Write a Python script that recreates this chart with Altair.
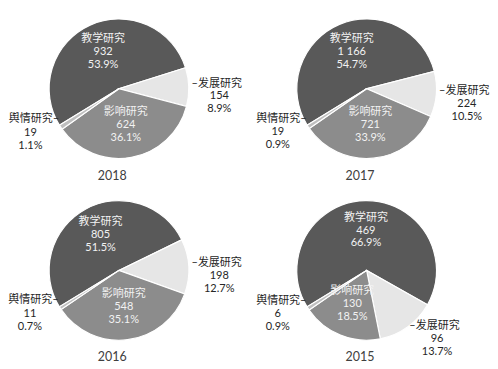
import json
import altair as alt
import pandas as pd

years = ["2018", "2017", "2016", "2015"]
categories = ["教学研究", "发展研究", "影响研究", "舆情研究"]
counts_2018 = [932, 154, 624, 19]
counts_2017 = [1166, 224, 721, 19]
counts_2016 = [805, 198, 548, 11]
counts_2015 = [469, 96, 130, 6]
pct_2018 = [53.9, 8.9, 36.1, 1.1]
pct_2017 = [54.7, 10.5, 33.9, 0.9]
pct_2016 = [51.5, 12.7, 35.1, 0.7]
pct_2015 = [66.9, 13.7, 18.5, 0.9]
colors = ["#595959", "#e6e6e6", "#8c8c8c", "#bfbfbf"]

rows = []
for y, cs, ps in zip(years,
                     [counts_2018, counts_2017, counts_2016, counts_2015],
                     [pct_2018, pct_2017, pct_2016, pct_2015]):
    for i, (c, v, p) in enumerate(zip(categories, cs, ps)):
        rows.append({"year": y, "cat": c, "ord": i, "value": v, "pct": p})
df = pd.DataFrame(rows)

START = -2.12   # radians, first slice start (clockwise from 12 o'clock)
R = 73
CX = 116
CY = 71
FONT = "Lato, 'Noto Sans CJK SC'"
W, H = 230, 172

base = alt.Chart()
pos = dict(x=alt.value(CX), y=alt.value(CY))

arcs = base.mark_arc(outerRadius=R, stroke="white", strokeWidth=1.2).encode(
    theta=alt.Theta("t0:Q", scale=None),
    theta2=alt.Theta2("t1"),
    color=alt.Color("cat:N", scale=alt.Scale(domain=categories, range=colors), legend=None),
    **pos,
)

inside = base.mark_text(
    lineBreak="|", fontSize=11.5, lineHeight=13.5, color="#f2f2f2",
    font=FONT, baseline="middle", align="center", dy=-15
).encode(
    theta=alt.Theta("tm:Q", scale=None, stack=False),
    radius=alt.value(40),
    text="in_lbl:N",
    **pos,
).transform_filter("datum.cat == '教学研究' || datum.cat == '影响研究'")

right_title = base.mark_text(
    fontSize=11.5, color="#262626", font=FONT, baseline="middle", align="left", dy=-3
).encode(
    theta=alt.Theta("tm:Q", scale=None, stack=False),
    radius=alt.value(76),
    text="rt:N",
    **pos,
).transform_filter("datum.cat == '发展研究'").transform_calculate(rt="'–' + datum.cat")

right_nums = base.mark_text(
    lineBreak="|", fontSize=11.5, lineHeight=13.5, color="#262626", font=FONT,
    baseline="top", align="center", dx=29, dy=4
).encode(
    theta=alt.Theta("tm:Q", scale=None, stack=False),
    radius=alt.value(76),
    text="nums:N",
    **pos,
).transform_filter("datum.cat == '发展研究'")

left_title = base.mark_text(
    fontSize=11.5, color="#262626", font=FONT, baseline="middle", align="right", dy=-9
).encode(
    theta=alt.Theta("tm:Q", scale=None, stack=False),
    radius=alt.value(75),
    text="lt:N",
    **pos,
).transform_filter("datum.cat == '舆情研究'").transform_calculate(lt="datum.cat + '–'")

left_nums = base.mark_text(
    lineBreak="|", fontSize=11.5, lineHeight=13.5, color="#262626", font=FONT,
    baseline="top", align="center", dx=-30, dy=-1
).encode(
    theta=alt.Theta("tm:Q", scale=None, stack=False),
    radius=alt.value(75),
    text="nums:N",
    **pos,
).transform_filter("datum.cat == '舆情研究'")

year_lbl = base.mark_text(
    fontSize=13, color="#404040", font="Lato", baseline="middle", align="center"
).encode(
    x=alt.value(CX - 7),
    y=alt.value(CY + 91),
    text="year:N",
).transform_filter("datum.ord == 0")

layered = alt.layer(arcs, inside, right_title, right_nums, left_title, left_nums, year_lbl).transform_joinaggregate(
    total="sum(value)", groupby=["year"]
).transform_window(
    cum="sum(value)", groupby=["year"], sort=[alt.SortField("ord")]
).transform_calculate(
    t1=f"{START} + 2*PI*datum.cum/datum.total",
    t0=f"{START} + 2*PI*(datum.cum - datum.value)/datum.total",
).transform_calculate(
    tm="(datum.t0 + datum.t1)/2",
    numstr="replace(format(datum.value, ','), ',', ' ')",
    pctstr="format(datum.pct, '.1f') + '%'",
).transform_calculate(
    nums="datum.numstr + '|' + datum.pctstr",
    in_lbl="datum.cat + '|' + datum.numstr + '|' + datum.pctstr",
).properties(width=W, height=H)

yrs_js = json.dumps(years)
chart = layered.facet(
    row=alt.Row("prow:O", header=None, title=None),
    column=alt.Column("pcol:O", header=None, title=None),
    data=df,
    spacing={"row": 13, "column": 14},
).transform_calculate(
    prow=f"floor(indexof({yrs_js}, datum.year) / 2)",
    pcol=f"indexof({yrs_js}, datum.year) % 2",
).properties(padding=0).configure_view(strokeWidth=0)

chart.save("out.html", embed_options={"renderer": "svg", "actions": False})
